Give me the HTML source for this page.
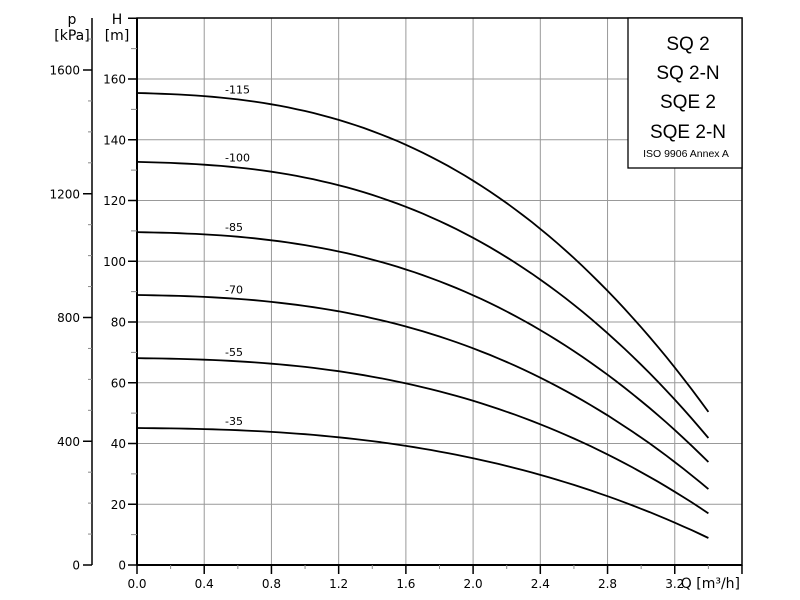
<!DOCTYPE html>
<html><head><meta charset="utf-8"><style>
body{margin:0;background:#fff}
svg{display:block;font-family:"DejaVu Sans","Liberation Sans",sans-serif}
</style></head><body>
<svg id="s" width="800" height="600" viewBox="0 0 800 600">
</svg>
<script>
const s=document.getElementById('s');
let h='';
const Y=v=>565-v*3.0375;
const XQ=q=>137+q/0.4*67.22;
for(let k=1;k<=8;k++){const x=XQ(k*0.4);h+=`<line x1="${x}" y1="18" x2="${x}" y2="565" stroke="#999" stroke-width="1"/>`;}
for(let k=1;k<=8;k++){const y=Y(k*20);h+=`<line x1="137" y1="${y}" x2="742" y2="${y}" stroke="#999" stroke-width="1"/>`;}
h+=`<rect x="137" y="18" width="605" height="547" fill="none" stroke="#000" stroke-width="1.5"/>`;
h+=`<line x1="137" y1="565" x2="742" y2="565" stroke="#000" stroke-width="2"/><line x1="137" y1="18" x2="137" y2="565" stroke="#000" stroke-width="2"/>`;
for(let v=0;v<=180;v+=10){const y=Y(v);const major=v%20==0;h+=`<line x1="${major?128:131}" y1="${y}" x2="137" y2="${y}" stroke="${major?'#000':'#888'}" stroke-width="${major?1.5:1}"/>`;
 if(major&&v<=160)h+=`<text x="126" y="${y+4.5}" font-size="12" text-anchor="end">${v}</text>`;}
for(let k=0;k<=18;k++){const x=XQ(k*0.2);const major=k%2==0;h+=`<line x1="${x}" y1="565" x2="${x}" y2="${major?574:569}" stroke="${major?'#000':'#888'}" stroke-width="${major?1.5:1}"/>`;
 if(major&&k<=16)h+=`<text x="${x}" y="588" font-size="12" text-anchor="middle">${(k*0.2).toFixed(1)}</text>`;}
h+=`<text x="740" y="588" font-size="14" text-anchor="end">Q [m³/h]</text>`;
h+=`<line x1="92" y1="18" x2="92" y2="565" stroke="#000" stroke-width="1.5"/>`;
for(let p=0;p<=1700;p+=100){const y=565-p*(495/1600);if(y<18)break;const major=p%400==0;h+=`<line x1="${major?83:88}" y1="${y}" x2="92" y2="${y}" stroke="${major?'#000':'#888'}" stroke-width="${major?1.5:1}"/>`;
 if(major)h+=`<text x="80" y="${y+4.5}" font-size="12" text-anchor="end">${p}</text>`;}
h+=`<text x="72" y="24" font-size="14" text-anchor="middle">p</text><text x="72" y="40" font-size="14" text-anchor="middle">[kPa]</text>`;
h+=`<text x="117" y="24" font-size="14" text-anchor="middle">H</text><text x="117" y="40" font-size="14" text-anchor="middle">[m]</text>`;
const f=q=>{const t=q/3.4;return 0.05*t+0.95*Math.pow(t,2.55);};
const C=[["-115",155.4,50.4],["-100",132.7,41.8],["-85",109.6,33.9],["-70",88.9,25],["-55",68.1,17],["-35",45.1,8.9]];
for(const [lab,h0,h1] of C){
 let pts=[];
 for(let i=0;i<=68;i++){const q=i*0.05;pts.push(XQ(q).toFixed(1)+","+Y(h0-(h0-h1)*f(q)).toFixed(1));}
 h+=`<polyline points="${pts.join(' ')}" fill="none" stroke="#000" stroke-width="1.8"/>`;
 const ly=Y(h0-(h0-h1)*f(0.55))-5;
 h+=`<text x="225" y="${ly}" font-size="11">${lab}</text>`;
}
h+=`<rect x="628" y="18" width="114" height="150" fill="#fff" stroke="#000" stroke-width="1.3"/>`;
const L=[["SQ 2",50],["SQ 2-N",79],["SQE 2",108],["SQE 2-N",138]];
for(const [t,y] of L)h+=`<text x="688" y="${y}" font-size="19" text-anchor="middle" font-family="Liberation Sans,sans-serif">${t}</text>`;
h+=`<text x="686" y="157" font-size="10.5" text-anchor="middle" font-family="Liberation Sans,sans-serif">ISO 9906 Annex A</text>`;
s.innerHTML=h;
</script>
</body></html>
